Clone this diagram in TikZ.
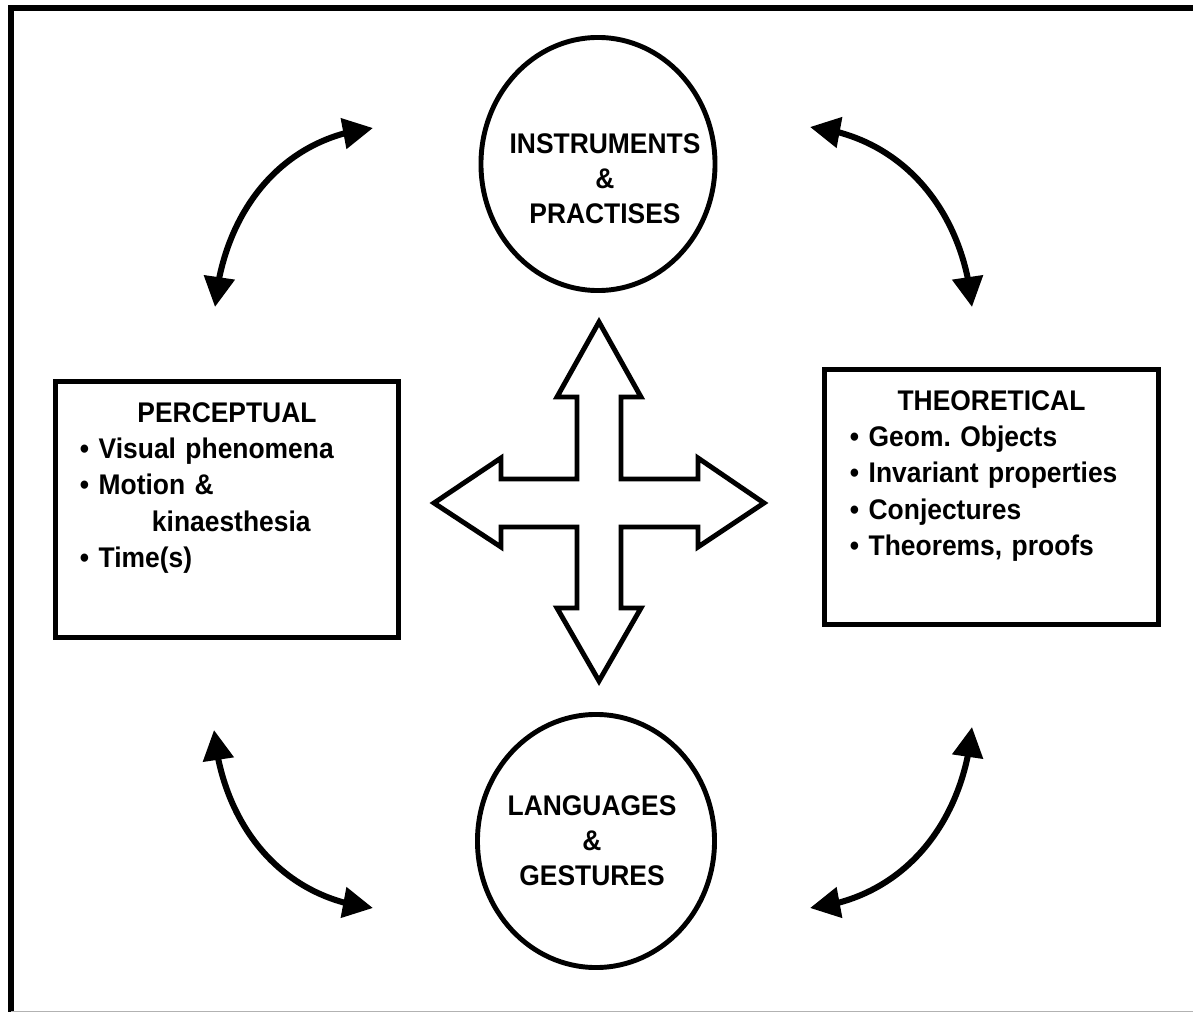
\documentclass[tikz,border=0pt]{standalone}
\usepackage{fontspec}
\setmainfont{Liberation Sans}[FakeStretch=0.93]
\usetikzlibrary{arrows.meta,bending,shapes.geometric}
\tikzset{
  roundnode/.style={ellipse,draw,line width=3.5pt,inner sep=0pt},
  roundtext/.style={align=center,inner sep=0pt,
    font=\bfseries\fontsize{20.2pt}{24.9pt}\selectfont},
  framenode/.style={rectangle,draw,line width=3.5pt,inner sep=0pt},
  listtext/.style={align=left,anchor=north,inner sep=0pt,
    font=\bfseries\fontsize{20.2pt}{25.9pt}\selectfont},
  curvedarrow/.style={line width=4.3pt,
    {Triangle[length=0.75cm,width=0.75cm]}-{Triangle[length=0.75cm,width=0.75cm]}},
  crossarrow/.style={line width=3.5pt,line join=miter,fill=white}
}

\begin{document}
\begin{tikzpicture}[x=0.025cm,y=-0.025cm]
  \useasboundingbox (0,0) rectangle (1193,1012);
  \fill[white] (0,0) rectangle (1193,1012);
  % outer frame
  \draw[line width=4.3pt] (11,1016) -- (11,8) -- (1197,8);
  \draw[gray!60,line width=0.8pt] (11,1011.5) -- (1193,1011.5);

  \node[roundnode,minimum width=5.85cm,minimum height=6.325cm] (instr) at (598,164) {};
  \node[roundtext] (instrtext) at (605,179) {INSTRUMENTS\\\&\\PRACTISES};
  \node[roundnode,minimum width=5.925cm,minimum height=6.325cm] (lang) at (596,841) {};
  \node[roundtext] (langtext) at (592,841) {LANGUAGES\\\&\\GESTURES};

  \node[framenode,minimum width=8.575cm,minimum height=6.4cm] (percep) at (227,509.5) {};
  \node[listtext,text width=7.35cm] (perceptext) at (227,402)
    {\makebox[\linewidth]{PERCEPTUAL}\\
     • Visual phenomena\\
     • Motion \&\\
     \hspace*{1.8cm}kinaesthesia\\
     • Time(s)};
  \node[framenode,minimum width=8.35cm,minimum height=6.375cm] (theor) at (991.5,497) {};
  \node[listtext,text width=7.075cm] (theortext) at (991.5,390)
    {\makebox[\linewidth]{THEORETICAL}\\
     • Geom.\ Objects\\
     • Invariant properties\\
     • Conjectures\\
     • Theorems, proofs};

  % four-way arrow
  \draw[crossarrow] (599,322) -- (641,397) -- (621,397) -- (621,479) -- (698,479)
    -- (698,458) -- (764,503) -- (698,547) -- (698,527) -- (621,527) -- (621,608)
    -- (641,608) -- (599,681) -- (557,608) -- (577,608) -- (577,527) -- (501,527)
    -- (501,547) -- (434,503) -- (501,458) -- (501,479) -- (577,479) -- (577,397)
    -- (557,397) -- cycle;

  \coordinate (tlup) at (373,128);
  \coordinate (tllow) at (215,307);
  \coordinate (blup) at (214,730);
  \coordinate (bllow) at (373,908);
  \coordinate (trup) at (810,127);
  \coordinate (trlow) at (972,307);
  \coordinate (brup) at (972,727);
  \coordinate (brlow) at (810,908);

  \draw[curvedarrow] (tllow) to[out=85,in=186] (tlup);
  \draw[curvedarrow] (blup) to[out=275,in=174] (bllow);
  \draw[curvedarrow] (trlow) to[out=95,in=354] (trup);
  \draw[curvedarrow] (brup) to[out=265,in=6] (brlow);
\end{tikzpicture}
\end{document}
